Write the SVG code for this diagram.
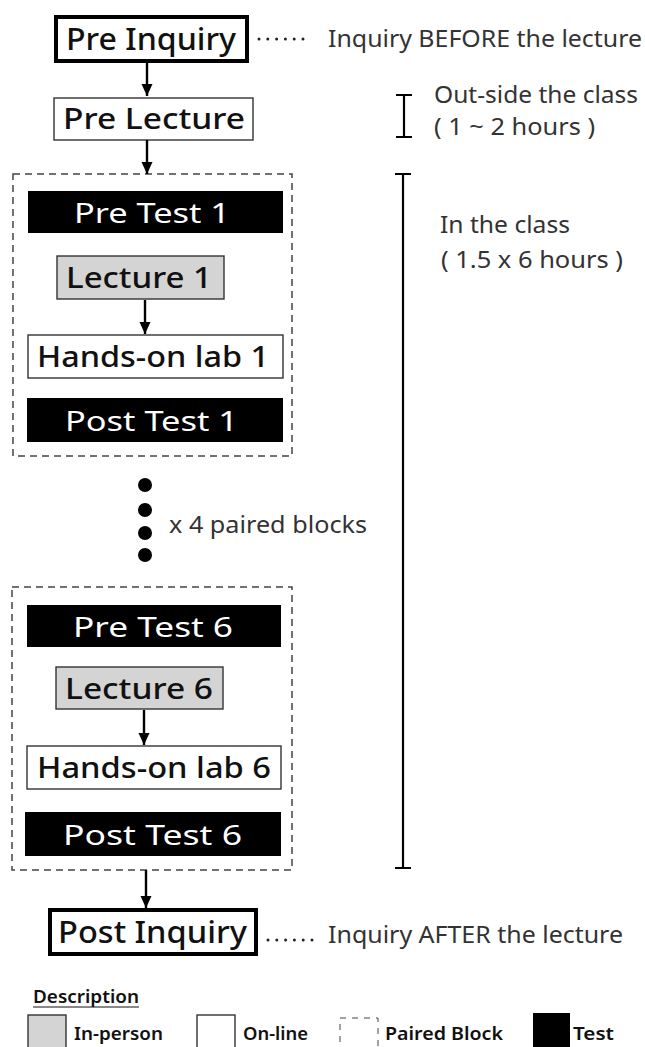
<svg xmlns="http://www.w3.org/2000/svg" width="645" height="1047" viewBox="0 0 645 1047">
  <defs>
    <marker id="arrow" viewBox="0 0 12 12" refX="12" refY="6" markerWidth="12" markerHeight="12" markerUnits="userSpaceOnUse" orient="auto">
      <path d="M0,0.5 L12,6 L0,11.5 Z" fill="#000"/>
    </marker>
    <style>
      .title { font-family: "Noto Sans", "Liberation Sans", Arial, sans-serif; font-weight: 500; fill: #111; }
      .note { font-family: "Noto Sans", "Liberation Sans", Arial, sans-serif; font-weight: 400; fill: #333; font-size: 23px; }
      .test { font-family: "Noto Sans", "Liberation Sans", Arial, sans-serif; font-weight: 400; fill: #fff; font-size: 28px; }
      .legend { font-family: "Noto Sans", "Liberation Sans", Arial, sans-serif; font-weight: 600; fill: #111; font-size: 17px; }
      .inquiry { fill: #fff; stroke: #000; stroke-width: 4; }
      .online { fill: #fff; stroke: #333; stroke-width: 1.4; }
      .inperson { fill: #d4d4d4; stroke: #333; stroke-width: 1.4; }
      .testbox { fill: #000; }
      .block { fill: none; stroke: #444; stroke-width: 1.5; stroke-dasharray: 7 5; }
      .conn { stroke: #000; stroke-width: 2.4; fill: none; }
      .dots { stroke: #222; stroke-width: 3; stroke-linecap: round; stroke-dasharray: 0 8.8; }
      .span { stroke: #000; stroke-width: 2.2; fill: none; }
    </style>
  </defs>
  <rect width="645" height="1047" fill="#fff"/>

  <!-- paired blocks (dashed frames) -->
  <g id="block1">
    <rect class="block" x="13" y="174" width="279" height="282"/>
  </g>
  <g id="block6">
    <rect class="block" x="12" y="587" width="280" height="283"/>
  </g>

  <g id="pre-inquiry">
    <rect class="inquiry" x="56" y="17" width="191" height="44"/>
    <text class="title" x="66" y="50" font-size="30" textLength="170" lengthAdjust="spacingAndGlyphs">Pre Inquiry</text>
  </g>
  <g id="pre-lecture">
    <rect class="online" x="54" y="98" width="199" height="42"/>
    <text class="title" x="63" y="129" font-size="29" textLength="182" lengthAdjust="spacingAndGlyphs">Pre Lecture</text>
  </g>

  <g id="pre-test-1">
    <rect class="testbox" x="28" y="191" width="255" height="42"/>
    <text class="test" x="74" y="223" textLength="156" lengthAdjust="spacingAndGlyphs">Pre Test 1</text>
  </g>
  <g id="lecture-1">
    <rect class="inperson" x="57" y="256" width="167" height="43"/>
    <text class="title" x="66" y="288" font-size="28" textLength="146" lengthAdjust="spacingAndGlyphs">Lecture 1</text>
  </g>
  <g id="lab-1">
    <rect class="online" x="28" y="335" width="255" height="43"/>
    <text class="title" x="37" y="367" font-size="28" textLength="232" lengthAdjust="spacingAndGlyphs">Hands-on lab 1</text>
  </g>
  <g id="post-test-1">
    <rect class="testbox" x="27" y="398" width="256" height="44"/>
    <text class="test" x="65" y="431" textLength="173" lengthAdjust="spacingAndGlyphs">Post Test 1</text>
  </g>

  <g id="repeat">
    <circle cx="145" cy="485" r="7"/>
    <circle cx="145" cy="510" r="7"/>
    <circle cx="145" cy="533" r="7"/>
    <circle cx="145" cy="555" r="7"/>
    <text class="note" x="169" y="533" textLength="198" lengthAdjust="spacingAndGlyphs">x 4 paired blocks</text>
  </g>

  <g id="pre-test-6">
    <rect class="testbox" x="27" y="605" width="254" height="42"/>
    <text class="test" x="73" y="637" textLength="160" lengthAdjust="spacingAndGlyphs">Pre Test 6</text>
  </g>
  <g id="lecture-6">
    <rect class="inperson" x="56" y="667" width="167" height="42"/>
    <text class="title" x="65" y="699" font-size="28" textLength="148" lengthAdjust="spacingAndGlyphs">Lecture 6</text>
  </g>
  <g id="lab-6">
    <rect class="online" x="27" y="746" width="254" height="43"/>
    <text class="title" x="37" y="778" font-size="28" textLength="234" lengthAdjust="spacingAndGlyphs">Hands-on lab 6</text>
  </g>
  <g id="post-test-6">
    <rect class="testbox" x="25" y="812" width="256" height="44"/>
    <text class="test" x="63" y="845" textLength="179" lengthAdjust="spacingAndGlyphs">Post Test 6</text>
  </g>

  <g id="post-inquiry">
    <rect class="inquiry" x="50" y="910" width="206" height="44"/>
    <text class="title" x="58" y="943" font-size="30" textLength="189" lengthAdjust="spacingAndGlyphs">Post Inquiry</text>
  </g>

  <!-- notes beside the inquiries -->
  <g id="note-before">
    <line class="dots" x1="259" y1="39" x2="304" y2="39"/>
    <text class="note" x="328" y="47" textLength="314" lengthAdjust="spacingAndGlyphs">Inquiry BEFORE the lecture</text>
  </g>
  <g id="note-after">
    <line class="dots" x1="268" y1="940" x2="313" y2="940"/>
    <text class="note" x="328" y="943" textLength="295" lengthAdjust="spacingAndGlyphs">Inquiry AFTER the lecture</text>
  </g>

  <!-- time spans -->
  <g id="span-outside">
    <path class="span" d="M396,95 H412 M404,95 V137 M396,137 H412"/>
    <text class="note" x="434" y="103" textLength="204" lengthAdjust="spacingAndGlyphs">Out-side the class</text>
    <text class="note" x="434" y="135" textLength="161" lengthAdjust="spacingAndGlyphs">( 1 ~ 2 hours )</text>
  </g>
  <g id="span-inside">
    <path class="span" d="M395,174 H411 M403,174 V868 M395,868 H411"/>
    <text class="note" x="440" y="233" textLength="130" lengthAdjust="spacingAndGlyphs">In the class</text>
    <text class="note" x="441" y="268" textLength="182" lengthAdjust="spacingAndGlyphs">( 1.5 x 6 hours )</text>
  </g>

  <g id="connectors">
    <line class="conn" x1="147" y1="63" x2="147" y2="96" marker-end="url(#arrow)"/>
    <line class="conn" x1="147" y1="140" x2="147" y2="174" marker-end="url(#arrow)"/>
    <line class="conn" x1="145" y1="300" x2="145" y2="334" marker-end="url(#arrow)"/>
    <line class="conn" x1="144" y1="710" x2="144" y2="745" marker-end="url(#arrow)"/>
    <line class="conn" x1="146" y1="870" x2="146" y2="908" marker-end="url(#arrow)"/>
  </g>

  <g id="legend">
    <text class="legend" x="33" y="1003" textLength="106" lengthAdjust="spacingAndGlyphs">Description</text>
    <line x1="33" y1="1007" x2="139" y2="1007" stroke="#111" stroke-width="1"/>
    <rect class="inperson" x="28" y="1015" width="38" height="40"/>
    <text class="legend" x="74" y="1040" textLength="89" lengthAdjust="spacingAndGlyphs">In-person</text>
    <rect class="online" x="197" y="1015" width="38" height="40"/>
    <text class="legend" x="243" y="1040" textLength="65" lengthAdjust="spacingAndGlyphs">On-line</text>
    <rect class="block" x="340" y="1018" width="38" height="40" style="stroke-width:1;stroke-dasharray:6 6"/>
    <text class="legend" x="385" y="1040" textLength="118" lengthAdjust="spacingAndGlyphs">Paired Block</text>
    <rect class="testbox" x="533" y="1013" width="37" height="40"/>
    <text class="legend" x="573" y="1040" textLength="41" lengthAdjust="spacingAndGlyphs">Test</text>
  </g>
</svg>
